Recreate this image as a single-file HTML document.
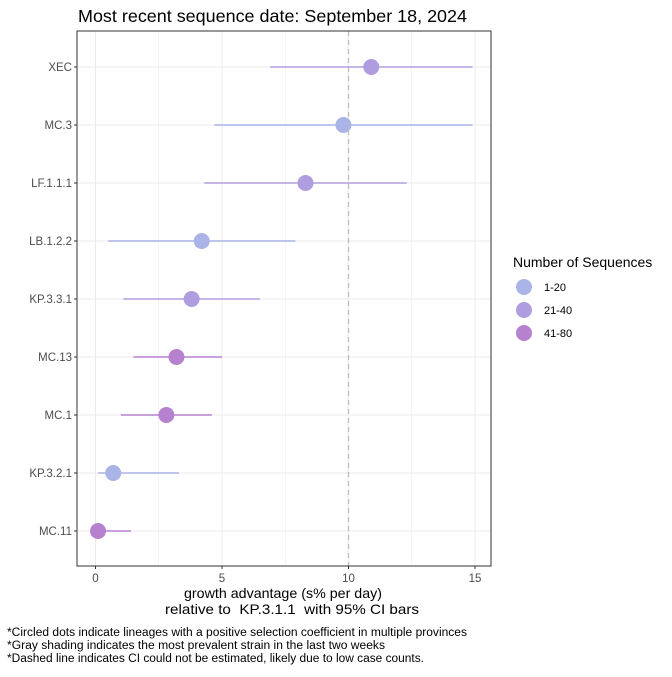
<!DOCTYPE html>
<html><head><meta charset="utf-8"><style>
body{margin:0;background:#fff;font-family:"Liberation Sans",sans-serif}
</style></head><body>
<svg id="chart" width="672" height="672" xmlns="http://www.w3.org/2000/svg" font-family="Liberation Sans, sans-serif">
<text x="78" y="22" font-size="17.5" textLength="389" lengthAdjust="spacingAndGlyphs" fill="#000">Most recent sequence date: September 18, 2024</text>
<g id="grid"></g>
<g id="marks"></g>
<rect x="77" y="31" width="414" height="535" fill="none" stroke="#333" stroke-width="1"/>
<g id="axes"></g>
<text x="184" y="598" font-size="14" textLength="198" lengthAdjust="spacingAndGlyphs">growth advantage (s% per day)</text>
<text x="165" y="614" font-size="14" textLength="254" lengthAdjust="spacingAndGlyphs" xml:space="preserve">relative to  KP.3.1.1  with 95% CI bars</text>
<g font-size="11.5">
<text x="7" y="636" textLength="460" lengthAdjust="spacingAndGlyphs">*Circled dots indicate lineages with a positive selection coefficient in multiple provinces</text>
<text x="7" y="649" textLength="378" lengthAdjust="spacingAndGlyphs">*Gray shading indicates the most prevalent strain in the last two weeks</text>
<text x="7" y="662" textLength="417" lengthAdjust="spacingAndGlyphs">*Dashed line indicates CI could not be estimated, likely due to low case counts.</text>
</g>
<g id="legend">
<text x="513" y="267" font-size="14">Number of Sequences</text>
</g>
</svg>
<script>
const lineages=["XEC","MC.3","LF.1.1.1","LB.1.2.2","KP.3.3.1","MC.13","MC.1","KP.3.2.1","MC.11"];
const estimates=[10.9,9.8,8.3,4.2,3.8,3.2,2.8,0.7,0.1];
const lower=[6.9,4.7,4.3,0.5,1.1,1.5,1.0,0.1,0.1];
const upper=[14.9,14.9,12.3,7.9,6.5,5.0,4.6,3.3,1.4];
const groups=[1,0,1,0,1,2,2,0,2];
const groupLabels=["1-20","21-40","41-80"];
const xTicks=[0,5,10,15];
const dashedAt=10;
const colors=["#aab4e6","#b09ddf","#b681cf"];
const NS="http://www.w3.org/2000/svg";
const x=v=>95.5+v*25.3;
const y=i=>67+i*58;
function mk(p,t,a){const e=document.createElementNS(NS,t);for(const k in a)e.setAttribute(k,a[k]);p.appendChild(e);return e;}
const grid=document.getElementById('grid'),marks=document.getElementById('marks'),axes=document.getElementById('axes'),leg=document.getElementById('legend');
for(let v=0;v<=15;v+=2.5){const l=mk(grid,'line',{x1:x(v),x2:x(v),y1:31,y2:566,stroke:'#ebebeb','stroke-width':v%5===0?1:0.5});

}
lineages.forEach((n,i)=>{const l=mk(grid,'line',{x1:77,x2:491,y1:y(i),y2:y(i),stroke:'#ebebeb','stroke-width':1});


const t=mk(axes,'text',{x:72,y:y(i)+4,'font-size':11.5,'text-anchor':'end',fill:'#4d4d4d'});t.textContent=n;


const tk=mk(axes,'line',{x1:74,x2:77,y1:y(i),y2:y(i),stroke:'#333'});

});
const d=mk(grid,'line',{x1:x(dashedAt),x2:x(dashedAt),y1:31,y2:566,stroke:'#bbb','stroke-width':1.3,'stroke-dasharray':'5,4'});


xTicks.forEach(v=>{const t=mk(axes,'text',{x:x(v),y:582,'font-size':11.5,'text-anchor':'middle',fill:'#4d4d4d'});t.textContent=v;


const tk=mk(axes,'line',{x1:x(v),x2:x(v),y1:566,y2:569,stroke:'#333'});

});
lineages.forEach((n,i)=>{const c=colors[groups[i]];
const l=mk(marks,'line',{x1:x(lower[i]),x2:x(upper[i]),y1:y(i),y2:y(i),stroke:c,'stroke-width':1.5});


const p=mk(marks,'circle',{cx:x(estimates[i]),cy:y(i),r:8,fill:c});

});
groupLabels.forEach((g,k)=>{const cy=287+k*23;
const c=mk(leg,'circle',{cx:524,cy:cy,r:8,fill:colors[k]});


const t=mk(leg,'text',{x:544,y:cy+4,'font-size':11});t.textContent=g;

});
</script>
</body></html>
